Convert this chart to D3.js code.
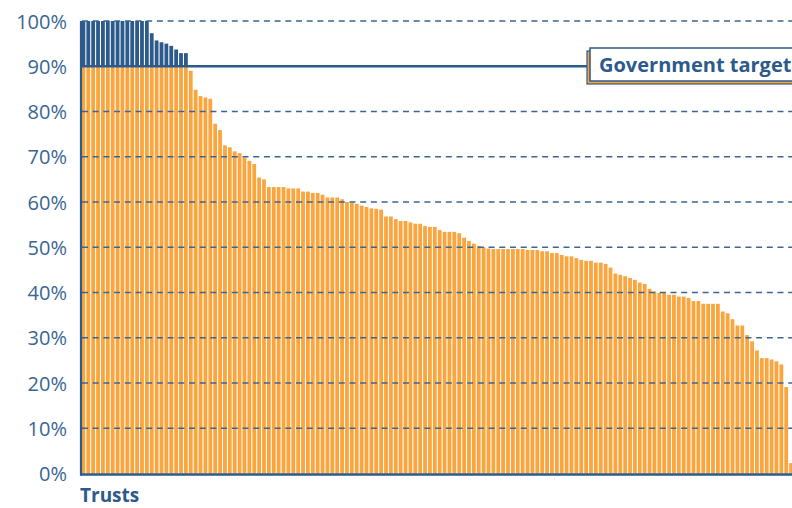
<!DOCTYPE html>
<html>
<head>
<meta charset="utf-8">
<script src="https://cdn.jsdelivr.net/npm/d3@7"></script>
<style>
  body { margin: 0; background: #fff; }
  svg { display: block; }
</style>
</head>
<body>
<svg id="chart"></svg>
<script>
// share of patients per trust, sorted high to low (%)
const trustValues = [
  100, 100, 100, 100, 100, 100, 100, 100, 100, 100, 100, 100, 100, 100,
  97.3, 95.7, 95.3, 95.0, 94.5, 93.7, 92.9, 92.9,
  89.0, 84.8, 83.4, 83.1, 82.8, 77.3, 75.9, 72.5, 72.1, 71.2, 70.8, 69.8, 69.1, 68.4, 65.4, 65.0,
  63.3, 63.3, 63.3, 63.3, 63.0, 63.0, 63.0, 62.3, 62.3, 62.0, 62.0, 61.6, 61.0, 61.0, 61.0,
  60.6, 60.0, 59.8, 59.6, 59.2, 58.9, 58.6, 58.5, 58.3,
  56.8, 56.8, 56.2, 55.8, 55.8, 55.5, 55.2, 55.2, 54.7, 54.5, 54.5, 53.8, 53.4, 53.4, 53.4, 53.1,
  52.1, 51.4, 50.8, 50.3, 50.0, 49.7,
  49.6, 49.6, 49.6, 49.6, 49.6, 49.6, 49.6, 49.4, 49.4, 49.4, 49.1, 49.1, 48.7, 48.7, 48.3,
  48.0, 48.0, 47.6, 47.2, 47.0, 47.0, 46.6, 46.6, 46.3, 45.5,
  44.2, 43.9, 43.6, 43.2, 42.8, 42.2, 41.9, 40.8, 40.2, 39.9, 39.9, 39.5, 39.5, 39.1, 39.1, 38.8,
  38.1, 38.1, 37.5, 37.5, 37.5, 37.5, 35.8, 35.4, 34.1, 32.7, 32.7, 30.6, 29.2, 27.2,
  25.5, 25.5, 25.2, 24.8, 24.1, 19.1, 2.3
];
const yTicks = [0, 10, 20, 30, 40, 50, 60, 70, 80, 90, 100];
const targetValue = 90;
const targetLabel = "Government target";
const xLabel = "Trusts";

const width = 792, height = 508;
const margin = {top: 21, left: 82, right: -1, bottom: 34};
const blue = "#2c5a8b";
const orange = "#fba53e";

const svg = d3.select("#chart")
  .attr("width", width)
  .attr("height", height)
  .attr("font-family", "'Open Sans', sans-serif");

const x = d3.scaleBand()
  .domain(d3.range(trustValues.length))
  .range([margin.left - 0.5, width - margin.right])
  .paddingInner(0.22)
  .paddingOuter(0);

const y = d3.scaleLinear()
  .domain([0, 100])
  .range([height - margin.bottom - 0.5, margin.top]);

// orange part up to target
svg.append("g")
  .selectAll("rect")
  .data(trustValues)
  .join("rect")
  .attr("x", (d, i) => x(i))
  .attr("width", x.bandwidth())
  .attr("y", d => y(Math.min(d, targetValue)))
  .attr("height", d => y(0) - y(Math.min(d, targetValue)))
  .attr("fill", orange);

// blue part above target
svg.append("g")
  .selectAll("rect")
  .data(trustValues.map((v, i) => ({v, i})).filter(d => d.v > targetValue))
  .join("rect")
  .attr("x", d => x(d.i))
  .attr("width", x.bandwidth())
  .attr("y", d => y(d.v))
  .attr("height", d => y(targetValue) - y(d.v))
  .attr("fill", blue);

// dashed gridlines
svg.append("g")
  .selectAll("line")
  .data(yTicks.filter(t => t > 0 && t !== targetValue))
  .join("line")
  .attr("x1", margin.left)
  .attr("x2", width)
  .attr("y1", d => y(d))
  .attr("y2", d => y(d))
  .attr("stroke", "#3b6592")
  .attr("stroke-width", 1.4)
  .attr("stroke-dasharray", "6,4.7");

// tick labels
const yAxis = svg.append("g")
  .attr("transform", `translate(${margin.left - 15},0)`)
  .call(d3.axisLeft(y).tickValues(yTicks).tickSize(0).tickFormat(d => d + "%"));
yAxis.select(".domain").remove();
yAxis.selectAll("text")
  .attr("x", 0)
  .attr("font-family", "'Open Sans', sans-serif")
  .attr("font-size", 20)
  .attr("fill", "#3a6694")
  .attr("dy", "0.36em");

// axis lines
svg.append("line")
  .attr("x1", margin.left - 1)
  .attr("x2", margin.left - 1)
  .attr("y1", y(100))
  .attr("y2", y(0) + 2)
  .attr("stroke", blue)
  .attr("stroke-width", 2.2);
svg.append("line")
  .attr("x1", margin.left - 2)
  .attr("x2", width)
  .attr("y1", y(0) + 1)
  .attr("y2", y(0) + 1)
  .attr("stroke", blue)
  .attr("stroke-width", 2.4);

// government target line + label box
const boxX = 590, boxY = 48, boxH = 33;
svg.append("line")
  .attr("x1", margin.left - 1)
  .attr("x2", boxX)
  .attr("y1", y(targetValue))
  .attr("y2", y(targetValue))
  .attr("stroke", blue)
  .attr("stroke-width", 2.4);
svg.append("rect")
  .attr("x", boxX - 3)
  .attr("y", boxY + 3)
  .attr("width", 240)
  .attr("height", boxH)
  .attr("fill", orange)
  .attr("stroke", blue)
  .attr("stroke-width", 1.2);
svg.append("rect")
  .attr("x", boxX)
  .attr("y", boxY)
  .attr("width", 240)
  .attr("height", boxH)
  .attr("fill", "#fff")
  .attr("stroke", blue)
  .attr("stroke-width", 1.5);
svg.append("text")
  .attr("x", boxX + 9)
  .attr("y", boxY + 24)
  .attr("font-size", 20)
  .attr("font-weight", "bold")
  .attr("fill", blue)
  .text(targetLabel);

// x label
svg.append("text")
  .attr("x", margin.left - 2)
  .attr("y", 502)
  .attr("font-size", 19)
  .attr("font-weight", "bold")
  .attr("fill", blue)
  .text(xLabel);
</script>
</body>
</html>
